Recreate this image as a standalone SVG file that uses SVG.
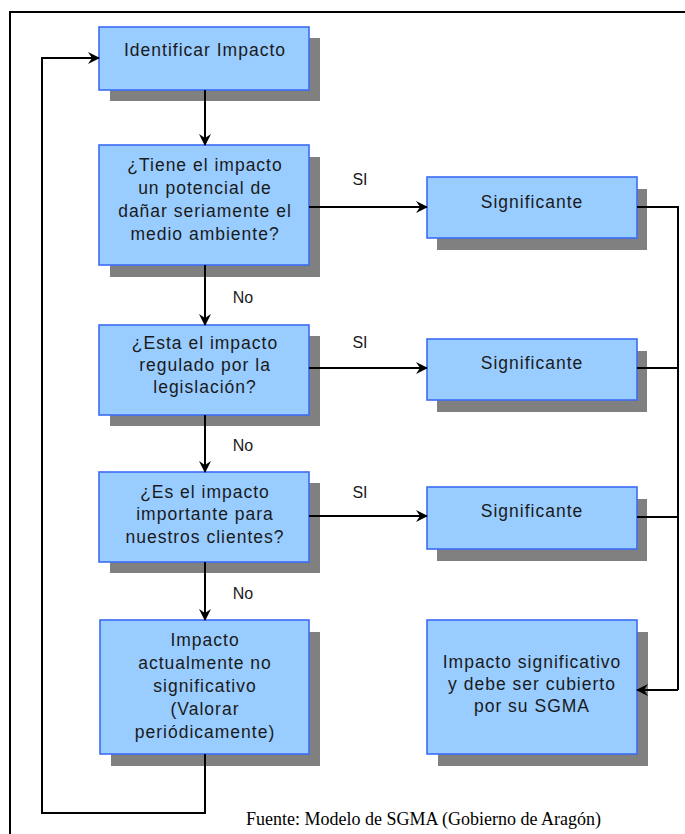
<svg xmlns="http://www.w3.org/2000/svg" width="685" height="834" viewBox="0 0 685 834">
<style>
.box{fill:#99ccff;stroke:#3b6cf5;stroke-width:1.6}
.sh{fill:#808080}
.t{font-family:"Liberation Sans",Arial,sans-serif;font-size:17.5px;letter-spacing:1px;fill:#1a1a1a;text-anchor:middle}
.lbl{font-family:"Liberation Sans",Arial,sans-serif;font-size:16px;fill:#1a1a1a;text-anchor:middle}
.c{fill:none;stroke:#000;stroke-width:2}
.src{font-family:"Liberation Serif","Times New Roman",serif;font-size:18px;fill:#000}
</style>
<defs>
<marker id="ah" viewBox="0 0 12 12" refX="11" refY="6" markerWidth="12" markerHeight="12" markerUnits="userSpaceOnUse" orient="auto">
<path d="M0,0 L12,6 L0,12 L4,6 z" fill="#000"/>
</marker>
</defs>
<rect width="685" height="834" fill="#fff"/>
<g id="frame">
<path class="c" d="M10,834 V12 H685"/>
</g>
<g id="n1">
<rect class="sh" x="110" y="38" width="210" height="63"/>
<rect class="box" x="99" y="27" width="210" height="63"/>
<text class="t" x="205" y="56">Identificar Impacto</text>
</g>
<g id="n2">
<rect class="sh" x="110" y="157" width="210" height="120"/>
<rect class="box" x="99" y="145" width="210" height="120"/>
<text class="t" x="205" y="171">¿Tiene el impacto</text>
<text class="t" x="205" y="194">un potencial de</text>
<text class="t" x="205" y="217">dañar seriamente el</text>
<text class="t" x="205" y="240">medio ambiente?</text>
</g>
<g id="s1">
<rect class="sh" x="437" y="189" width="210" height="61"/>
<rect class="box" x="427" y="177" width="210" height="61"/>
<text class="t" x="532" y="208">Significante</text>
</g>
<g id="n3">
<rect class="sh" x="110" y="336" width="210" height="90"/>
<rect class="box" x="99" y="325" width="210" height="90"/>
<text class="t" x="205" y="349">¿Esta el impacto</text>
<text class="t" x="205" y="371">regulado por la</text>
<text class="t" x="205" y="393">legislación?</text>
</g>
<g id="s2">
<rect class="sh" x="437" y="351" width="210" height="61"/>
<rect class="box" x="427" y="339" width="210" height="61"/>
<text class="t" x="532" y="369">Significante</text>
</g>
<g id="n4">
<rect class="sh" x="110" y="483" width="210" height="90"/>
<rect class="box" x="99" y="472" width="210" height="90"/>
<text class="t" x="205" y="498">¿Es el impacto</text>
<text class="t" x="205" y="520">importante para</text>
<text class="t" x="205" y="543">nuestros clientes?</text>
</g>
<g id="s3">
<rect class="sh" x="437" y="499" width="210" height="62"/>
<rect class="box" x="427" y="487" width="210" height="62"/>
<text class="t" x="532" y="517">Significante</text>
</g>
<g id="n5">
<rect class="sh" x="111" y="632" width="209" height="134"/>
<rect class="box" x="100" y="620" width="209" height="134"/>
<text class="t" x="205" y="646">Impacto</text>
<text class="t" x="205" y="669">actualmente no</text>
<text class="t" x="205" y="692">significativo</text>
<text class="t" x="205" y="715">(Valorar</text>
<text class="t" x="205" y="738">periódicamente)</text>
</g>
<g id="n6">
<rect class="sh" x="438" y="632" width="210" height="134"/>
<rect class="box" x="427" y="620" width="210" height="134"/>
<text class="t" x="532" y="668">Impacto significativo</text>
<text class="t" x="532" y="690">y debe ser cubierto</text>
<text class="t" x="532" y="712">por su SGMA</text>
</g>
<g id="connectors">
<path class="c" d="M205,90 V145" marker-end="url(#ah)"/>
<path class="c" d="M205,265 V325" marker-end="url(#ah)"/>
<path class="c" d="M205,415 V472" marker-end="url(#ah)"/>
<path class="c" d="M205,562 V620" marker-end="url(#ah)"/>
<path class="c" d="M309,207 H427" marker-end="url(#ah)"/>
<path class="c" d="M309,368 H427" marker-end="url(#ah)"/>
<path class="c" d="M309,516 H427" marker-end="url(#ah)"/>
<path class="c" d="M637,207 H678 V690"/>
<path class="c" d="M637,368 H678"/>
<path class="c" d="M637,517 H678"/>
<path class="c" d="M678,690 H637" marker-end="url(#ah)"/>
<path class="c" d="M205,754 V813 H42 V58 H99" marker-end="url(#ah)"/>
<text class="lbl" x="243" y="303">No</text>
<text class="lbl" x="243" y="451">No</text>
<text class="lbl" x="243" y="599">No</text>
<text class="lbl" x="360" y="185">SI</text>
<text class="lbl" x="360" y="348">SI</text>
<text class="lbl" x="360" y="498">SI</text>
</g>
<text class="src" x="246" y="825">Fuente: Modelo de SGMA (Gobierno de Aragón)</text>
</svg>
